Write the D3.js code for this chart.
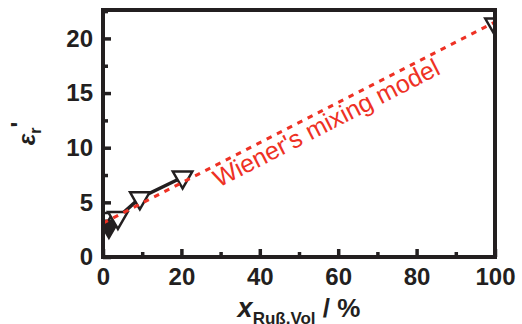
<!DOCTYPE html>
<html>
<head>
<meta charset="utf-8">
<script src="https://cdn.jsdelivr.net/npm/d3@7"></script>
<style>
  body { margin: 0; background: #fff; }
  text { font-family: "Liberation Sans", Arial, sans-serif; }
</style>
</head>
<body>
<div id="chart"></div>
<script>
// measured points (carbon black volume fraction vs permittivity)
const xVol = [0, 1.5, 3.8, 9.4, 20.3, 100];
const epsR = [3.5, 2.8, 3.6, 5.4, 7.3, 21.3];
// Wiener mixing model, straight line
const modelX = [0, 100];
const modelY = [3.1, 21.5];
const xMajor = [0, 20, 40, 60, 80, 100];
const xMinor = [10, 30, 50, 70, 90];
const yMajor = [0, 5, 10, 15, 20];
const yMinor = [2.5, 7.5, 12.5, 17.5, 22.5];

const W = 522, H = 324;
const m = { left: 103, right: 27, top: 10, bottom: 67 };
const ink = '#231f20';
const red = '#ee3124';

const svg = d3.select('#chart').append('svg')
  .attr('width', W).attr('height', H);

const x = d3.scaleLinear().domain([0, 100]).range([m.left, W - m.right]);
const y = d3.scaleLinear().domain([0, 22.6]).range([H - m.bottom, m.top]);

svg.append('clipPath').attr('id', 'plot')
  .append('rect')
  .attr('x', m.left).attr('y', m.top)
  .attr('width', W - m.left - m.right).attr('height', H - m.top - m.bottom);

const plot = svg.append('g').attr('clip-path', 'url(#plot)');

// data line (first five points)
const pts = xVol.map((v, i) => [v, epsR[i]]);
plot.append('path')
  .attr('d', d3.line().x(d => x(d[0])).y(d => y(d[1]))(pts.slice(0, 5)))
  .attr('fill', 'none').attr('stroke', ink).attr('stroke-width', 3.5);

// markers
plot.selectAll('.mk').data(pts).enter().append('path')
  .attr('class', 'mk')
  .attr('d', d3.symbol(d3.symbolTriangle, 165))
  .attr('transform', d => `translate(${x(d[0])},${y(d[1])}) rotate(180)`)
  .attr('fill', (d, i) => i === 1 ? ink : '#fff')
  .attr('stroke', ink).attr('stroke-width', 2.5)
  .attr('stroke-linejoin', 'miter');

// model line
const model = modelX.map((v, i) => [v, modelY[i]]);
plot.append('path')
  .attr('d', d3.line().x(d => x(d[0])).y(d => y(d[1]))(model))
  .attr('fill', 'none').attr('stroke', red).attr('stroke-width', 3)
  .attr('stroke-dasharray', '5.5,6');

// label along the model line
const p0 = [x(modelX[0]), y(modelY[0])];
const p1 = [x(modelX[1]), y(modelY[1])];
const ang = Math.atan2(p1[1] - p0[1], p1[0] - p0[0]) * 180 / Math.PI;
const lx = 29.5;
const ly = modelY[0] + (modelY[1] - modelY[0]) * lx / 100;
svg.append('text')
  .attr('transform', `translate(${x(lx)},${y(ly) + 24}) rotate(${ang})`)
  .attr('fill', red)
  .attr('font-size', 25)
  .text("Wiener's mixing model");

// axes, ticks pointing inward
svg.append('g').attr('transform', `translate(${m.left},0)`)
  .call(d3.axisLeft(y).tickValues(yMajor).tickSize(-8).tickPadding(10).tickFormat(d3.format('d')));
svg.append('g').attr('transform', `translate(${m.left},0)`)
  .call(d3.axisLeft(y).tickValues(yMinor).tickSize(-5).tickFormat(''));
svg.append('g').attr('transform', `translate(0,${H - m.bottom})`)
  .call(d3.axisBottom(x).tickValues(xMajor).tickSize(-8).tickPadding(11).tickFormat(d3.format('d')));
svg.append('g').attr('transform', `translate(0,${H - m.bottom})`)
  .call(d3.axisBottom(x).tickValues(xMinor).tickSize(-5).tickFormat(''));

svg.selectAll('.domain').remove();
svg.selectAll('.tick line').attr('stroke', ink).attr('stroke-width', 3.5);
svg.selectAll('.tick text')
  .attr('fill', ink).attr('font-size', 24).attr('font-weight', 'bold')
  .attr('font-family', '"Liberation Sans", Arial, sans-serif');

// frame
svg.append('rect')
  .attr('x', m.left).attr('y', m.top)
  .attr('width', W - m.left - m.right).attr('height', H - m.top - m.bottom)
  .attr('fill', 'none').attr('stroke', ink).attr('stroke-width', 4);

// x title
const xt = svg.append('text')
  .attr('x', (m.left + W - m.right) / 2).attr('y', 317)
  .attr('text-anchor', 'middle').attr('fill', ink).attr('font-weight', 'bold');
xt.append('tspan').attr('font-size', 27).attr('font-style', 'italic').text('x');
xt.append('tspan').attr('font-size', 17).attr('dy', 7).text('Ruß,Vol');
xt.append('tspan').attr('font-size', 26).attr('dy', -7).text(' / %');

// y title
const yt = svg.append('text')
  .attr('transform', `translate(35,${(m.top + H - m.bottom) / 2}) rotate(-90)`)
  .attr('text-anchor', 'middle').attr('fill', ink).attr('font-weight', 'bold');
yt.append('tspan').attr('font-size', 24).attr('font-style', 'italic').text('ε');
yt.append('tspan').attr('font-size', 16).attr('dy', 6).text('r');
yt.append('tspan').attr('font-size', 24).attr('dy', -13).text("'");
</script>
</body>
</html>
